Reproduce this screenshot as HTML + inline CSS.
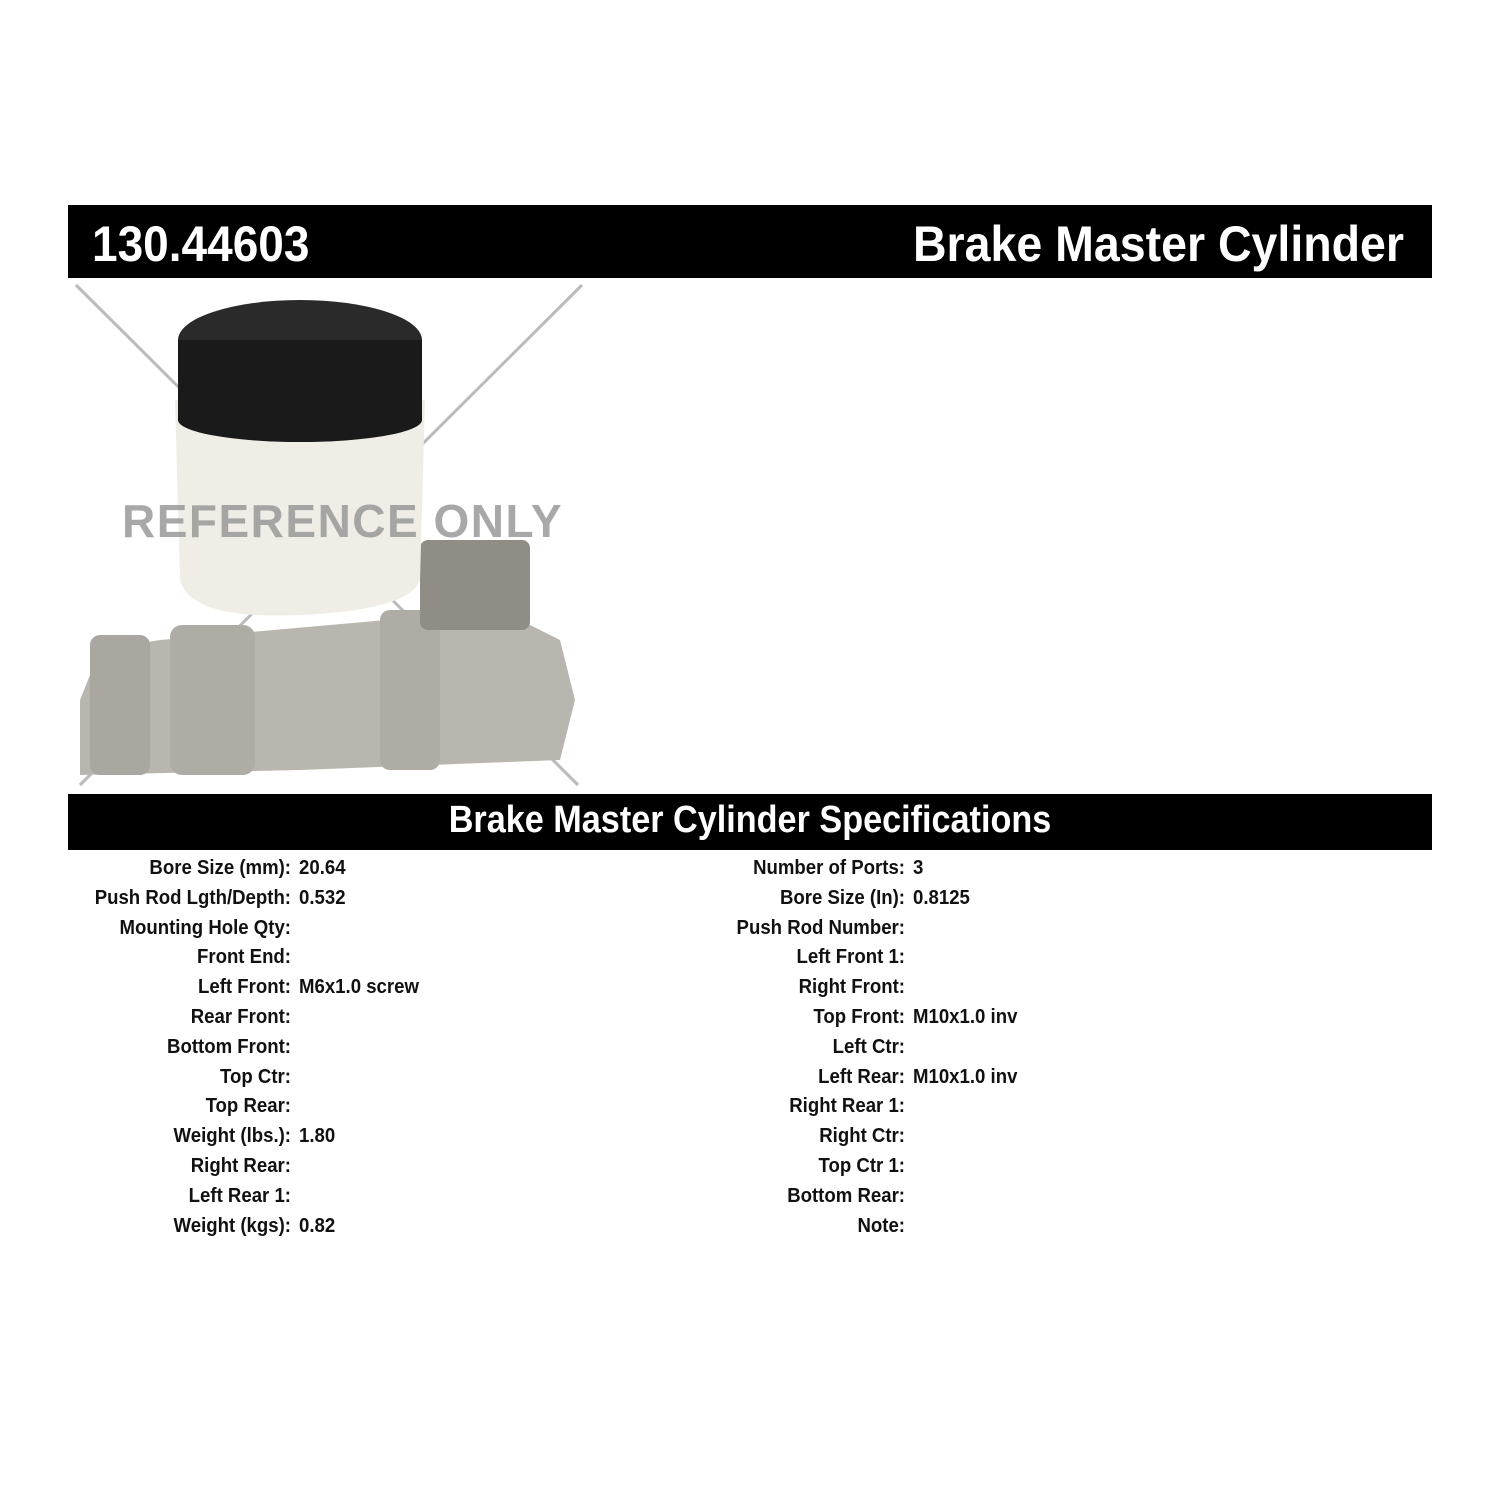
<!DOCTYPE html>
<html><head><meta charset="utf-8"><style>
body{margin:0;width:1500px;height:1500px;background:#fff;position:relative;overflow:hidden;font-family:"Liberation Sans Narrow","Liberation Sans",sans-serif;font-weight:bold}
.bar{position:absolute;left:68px;width:1364px;background:#000;color:#fff}
.t{position:absolute;white-space:nowrap}
.row{position:absolute;font-size:20px;line-height:24px;color:#111;white-space:nowrap}
</style></head><body>
<div class="bar" style="top:205px;height:73px">
<div class="t" style="left:24px;top:10px;font-size:50px;transform:scaleX(.92);transform-origin:left">130.44603</div>
<div class="t" style="right:28px;top:10px;font-size:50px;transform:scaleX(.93);transform-origin:right">Brake Master Cylinder</div>
</div>
<svg style="position:absolute;left:0;top:280px" width="620" height="510">
<line x1="76" y1="5" x2="578" y2="505" stroke="#bbb" stroke-width="3"/>
<line x1="582" y1="5" x2="80" y2="505" stroke="#bbb" stroke-width="3"/>
<path d="M80 420 L100 370 L160 360 L500 330 L560 360 L575 420 L560 480 L300 490 L80 495 Z" fill="#b8b6ae"/>
<rect x="90" y="355" width="60" height="140" rx="10" fill="#a9a79f"/>
<rect x="170" y="345" width="85" height="150" rx="12" fill="#aeaca4"/>
<rect x="380" y="330" width="60" height="160" rx="10" fill="#aeaca4"/>
<rect x="420" y="260" width="110" height="90" rx="8" fill="#8f8d86"/>
<path d="M175 120 L180 300 Q190 340 300 335 Q410 330 420 300 L425 120 Z" fill="#efede6"/>
<ellipse cx="300" cy="60" rx="122" ry="40" fill="#2a2a2a"/>
<rect x="178" y="60" width="244" height="80" fill="#1a1a1a"/>
<ellipse cx="300" cy="140" rx="122" ry="22" fill="#1a1a1a"/>
</svg>
<div class="t" style="left:122px;top:494px;font-family:'Liberation Sans',sans-serif;font-size:46px;color:#999;letter-spacing:1.5px;opacity:.85">REFERENCE ONLY</div>
<div class="bar" style="top:794px;height:56px">
<div class="t" style="left:0;width:1364px;text-align:center;top:5px;font-size:38px;transform:scaleX(.9)">Brake Master Cylinder Specifications</div>
</div>
<div id="rows"></div>
<script>
var L=[["Bore Size (mm):","20.64"],["Push Rod Lgth/Depth:","0.532"],["Mounting Hole Qty:",""],["Front End:",""],["Left Front:","M6x1.0 screw"],["Rear Front:",""],["Bottom Front:",""],["Top Ctr:",""],["Top Rear:",""],["Weight (lbs.):","1.80"],["Right Rear:",""],["Left Rear 1:",""],["Weight (kgs):","0.82"]];
var R=[["Number of Ports:","3"],["Bore Size (In):","0.8125"],["Push Rod Number:",""],["Left Front 1:",""],["Right Front:",""],["Top Front:","M10x1.0 inv"],["Left Ctr:",""],["Left Rear:","M10x1.0 inv"],["Right Rear 1:",""],["Right Ctr:",""],["Top Ctr 1:",""],["Bottom Rear:",""],["Note:",""]];
var h="";
function add(a,lx,vx){a.forEach(function(r,i){var y=856+i*29.8;
h+='<div class="row" style="top:'+y+'px;left:'+(lx-300)+'px;width:300px;text-align:right;transform:scaleX(.93);transform-origin:right">'+r[0]+'</div>';
h+='<div class="row" style="top:'+y+'px;left:'+vx+'px;transform:scaleX(.93);transform-origin:left">'+r[1]+'</div>';});}
add(L,291,299);add(R,905,913);
document.getElementById("rows").innerHTML=h;
</script>
</body></html>
